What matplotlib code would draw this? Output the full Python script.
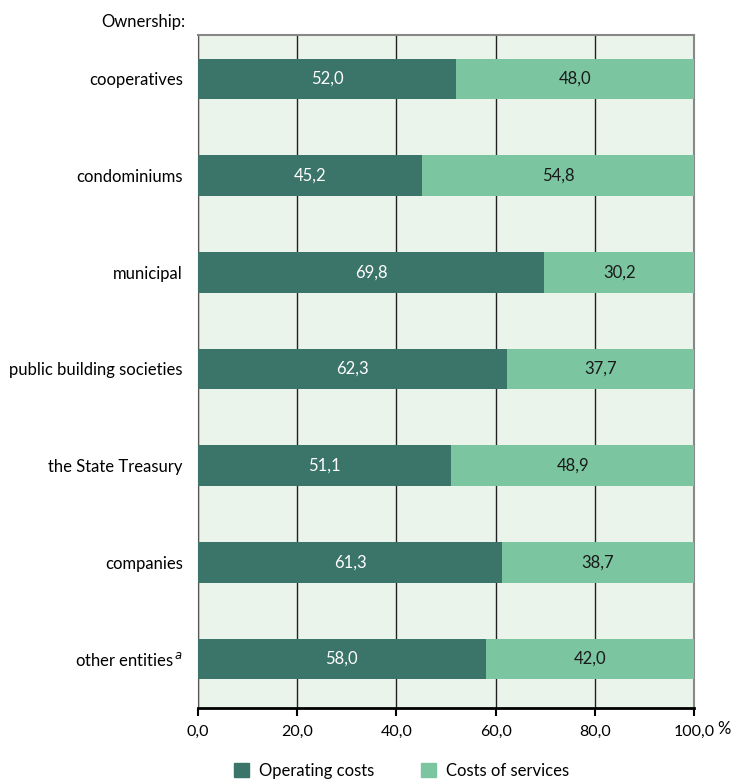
import matplotlib.pyplot as plt
from matplotlib.patches import Patch

plt.rcParams['font.family'] = ['Lato', 'DejaVu Sans']

categories = ['cooperatives', 'condominiums', 'municipal', 'public building societies',
              'the State Treasury', 'companies', 'other entities$^{\\,\\mathit{a}}$']
operating = [52.0, 45.2, 69.8, 62.3, 51.1, 61.3, 58.0]
services = [48.0, 54.8, 30.2, 37.7, 48.9, 38.7, 42.0]
xticks = [0, 20, 40, 60, 80, 100]

c_dark = '#3b7468'
c_light = '#7bc5a0'
c_bg = '#eaf4ea'
fs = 12

fig = plt.figure(figsize=(7.31, 7.8), dpi=100)
ax = fig.add_axes([198 / 731, 1 - 708 / 780, 496 / 731, 673 / 780])
ax.set_facecolor(c_bg)

y = list(range(len(categories)))
ax.barh(y, operating, height=0.42, color=c_dark, zorder=3)
ax.barh(y, services, left=operating, height=0.42, color=c_light, zorder=3)

for i in y:
    ax.text(operating[i] / 2, i, f'{operating[i]:.1f}'.replace('.', ','),
            ha='center', va='center', color='white', fontsize=fs, zorder=4)
    ax.text(operating[i] + services[i] / 2, i, f'{services[i]:.1f}'.replace('.', ','),
            ha='center', va='center', color='#1a1a1a', fontsize=fs, zorder=4)

ax.set_xlim(0, 100)
ax.set_ylim(6.507, -0.455)
ax.set_xticks(xticks)
ax.set_xticklabels([f'{v:.1f}'.replace('.', ',') for v in xticks], fontsize=11.5)
ax.set_yticks(y)
ax.set_yticklabels(categories, fontsize=fs)
ax.tick_params(axis='y', length=0, pad=11)
ax.tick_params(axis='x', length=6, width=1.5, direction='out', pad=6, color='black')

ax.grid(axis='x', color='#222222', linewidth=1, zorder=1)
ax.set_axisbelow(True)
for s in ['top', 'right']:
    ax.spines[s].set_color('#888888')
    ax.spines[s].set_linewidth(1.5)
ax.spines['left'].set_color('#555555')
ax.spines['bottom'].set_color('black')
ax.spines['bottom'].set_linewidth(2)

fig.text(185 / 731, 1 - 22 / 780, 'Ownership:', ha='right', va='center', fontsize=fs)
fig.text(717 / 731, 1 - 729 / 780, '%', ha='left', va='center', fontsize=fs)

handles = [Patch(color=c_dark, label='Operating costs'),
           Patch(color=c_light, label='Costs of services')]
fig.legend(handles=handles, loc='center', bbox_to_anchor=(0.549, 1 - 771 / 780),
           ncol=2, frameon=False, fontsize=fs, handlelength=0.9, handleheight=0.9,
           columnspacing=2.8, handletextpad=0.6)

plt.savefig('out.png', dpi=100)
